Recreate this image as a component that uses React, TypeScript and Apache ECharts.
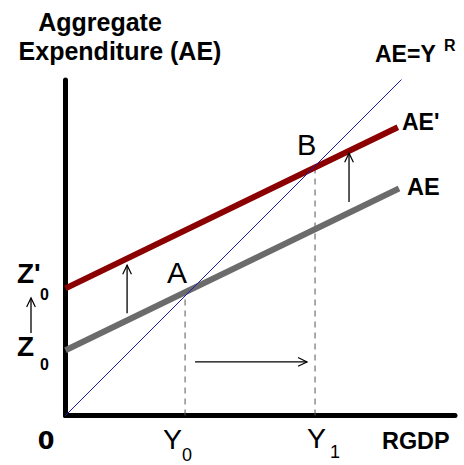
import React, { useEffect, useRef } from "react";
import * as echarts from "echarts";

// Axis extents (model units)
const X_MAX = 9.74;
const Y_MAX = 8.39;

// 45-degree line AE = Y
const diagonal: [number, number][] = [
  [0, 0],
  [8.5, 8.5],
];

// Original aggregate expenditure AE = Z0 + c*Y
const aeLine: [number, number][] = [
  [0, 1.63],
  [8.34, 5.675],
];

// Shifted aggregate expenditure AE' = Z0' + c*Y
const aePrimeLine: [number, number][] = [
  [0, 3.18],
  [8.31, 7.21],
];

// Equilibrium incomes
const Y0 = 2.99;
const Y1 = 6.24;

// Shift arrows: [x1, y1, x2, y2]
const arrows: number[][] = [
  [1.54, 2.56, 1.54, 3.76],
  [7.09, 5.34, 7.09, 6.56],
  [3.24, 1.34, 6.04, 1.34],
];

const FONT = "'Liberation Sans', Arial, sans-serif";

export default function App() {
  const ref = useRef<HTMLDivElement>(null);

  useEffect(() => {
    if (!ref.current) return;
    document.body.style.margin = "0";
    const chart = echarts.init(ref.current, null, { renderer: "svg" });

    const txt = (
      text: string,
      x: number,
      y: number,
      size: number,
      weight: string = "normal",
      align: string = "left",
      family: string = FONT
    ) => ({
      type: "text",
      style: {
        text,
        x,
        y,
        fill: "#000",
        font: `${weight} ${size}px ${family}`,
        textAlign: align,
        textVerticalAlign: "middle",
      },
      z: 10,
    });

    const arrowHead = (x: number, y: number, ang: number) => {
      const L = 10;
      const W = 0.45;
      return [
        [x - L * Math.cos(ang - W), y - L * Math.sin(ang - W)],
        [x, y],
        [x - L * Math.cos(ang + W), y - L * Math.sin(ang + W)],
      ];
    };

    chart.setOption({
      animation: false,
      backgroundColor: "#fff",
      grid: { left: 65.5, right: 9, top: 80, bottom: 49.5 },
      xAxis: {
        type: "value",
        min: 0,
        max: X_MAX,
        axisLine: { show: true, lineStyle: { color: "#000", width: 5 } },
        axisTick: { show: false },
        axisLabel: { show: false },
        splitLine: { show: false },
      },
      yAxis: {
        type: "value",
        min: 0,
        max: Y_MAX,
        axisLine: { show: true, lineStyle: { color: "#000", width: 5 } },
        axisTick: { show: false },
        axisLabel: { show: false },
        splitLine: { show: false },
      },
      series: [
        {
          type: "line",
          data: [
            [Y0, 0],
            [Y0, Y0],
          ],
          symbol: "none",
          lineStyle: { color: "#555", width: 1, type: [6, 5] },
          z: 2,
        },
        {
          type: "line",
          data: [
            [Y1, 0],
            [Y1, Y1],
          ],
          symbol: "none",
          lineStyle: { color: "#555", width: 1, type: [6, 5] },
          z: 2,
        },
        {
          type: "line",
          data: aeLine,
          symbol: "none",
          lineStyle: { color: "#6b6b6b", width: 6 },
          z: 3,
        },
        {
          type: "line",
          data: aePrimeLine,
          symbol: "none",
          lineStyle: { color: "#8b0000", width: 6 },
          z: 3,
        },
        {
          type: "line",
          data: diagonal,
          symbol: "none",
          lineStyle: { color: "#1c1ca8", width: 1 },
          z: 4,
        },
        {
          type: "custom",
          data: arrows,
          z: 5,
          renderItem: (_params: any, api: any) => {
            const p1 = api.coord([api.value(0), api.value(1)]);
            const p2 = api.coord([api.value(2), api.value(3)]);
            const ang = Math.atan2(p2[1] - p1[1], p2[0] - p1[0]);
            return {
              type: "group",
              children: [
                {
                  type: "line",
                  shape: { x1: p1[0], y1: p1[1], x2: p2[0], y2: p2[1] },
                  style: { stroke: "#000", lineWidth: 1.3 },
                },
                {
                  type: "polyline",
                  shape: { points: arrowHead(p2[0], p2[1], ang) },
                  style: { stroke: "#000", fill: null, lineWidth: 1.2 },
                },
              ],
            };
          },
        },
      ],
      graphic: [
        txt("Aggregate", 100, 22, 25, "bold", "center"),
        txt("Expenditure (AE)", 120, 51, 25, "bold", "center"),
        txt("AE=Y", 375, 54, 23, "bold"),
        txt("R", 444, 45, 16, "bold"),
        txt("AE'", 402, 122, 23, "bold"),
        txt("AE", 407, 187, 23.5, "bold"),
        txt("B", 297, 145, 29),
        txt("A", 167, 272, 30),
        txt("Z'", 17, 273, 28, "bold"),
        txt("0", 40, 294, 16, "bold"),
        txt("Z", 17, 346, 28, "bold"),
        txt("0", 40, 364, 16, "bold"),
        txt("0", 46, 441, 24, "bold", "center", "'DejaVu Sans', sans-serif"),
        txt("Y", 163, 439, 28.5),
        txt("0", 182, 455, 18),
        txt("Y", 307, 438, 28.5),
        txt("1", 330, 452, 18),
        txt("RGDP", 382, 441, 23.4, "bold"),
        {
          type: "group",
          z: 10,
          children: [
            {
              type: "line",
              shape: { x1: 31, y1: 333, x2: 31, y2: 298 },
              style: { stroke: "#000", lineWidth: 1.3 },
            },
            {
              type: "polyline",
              shape: { points: arrowHead(31, 298, -Math.PI / 2) },
              style: { stroke: "#000", fill: null, lineWidth: 1.2 },
            },
          ],
        },
      ],
    });

    return () => chart.dispose();
  }, []);

  return <div ref={ref} style={{ width: 464, height: 465 }} />;
}
